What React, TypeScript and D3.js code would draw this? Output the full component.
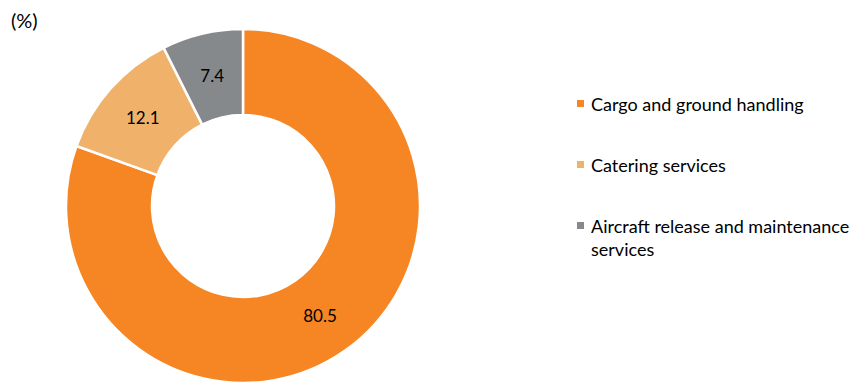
import React from "react";
import * as d3 from "d3";

const categories = ["Cargo and ground handling", "Catering services", "Aircraft release and maintenance services"];
const values = [80.5, 12.1, 7.4];
const colors = ["#F58623", "#F0B26B", "#86898C"];
const unitLabel = "(%)";

const W = 867, H = 385;
const cx = 243, cy = 206, rOuter = 177, rInner = 91;
const FONT = "Lato, 'Open Sans', sans-serif";

function wrap(text: string, maxChars: number): string[] {
  const words = text.split(" ");
  const lines: string[] = [];
  let cur = "";
  for (const w of words) {
    const next = cur ? cur + " " + w : w;
    if (next.length > maxChars && cur) {
      lines.push(cur);
      cur = w;
    } else cur = next;
  }
  if (cur) lines.push(cur);
  return lines;
}

export default function App() {
  const pie = d3.pie<number>().sort(null).value((d) => d);
  const arcs = pie(values);
  const arc = d3.arc<d3.PieArcDatum<number>>().innerRadius(rInner).outerRadius(rOuter);
  const legendY = d3.scalePoint<number>().domain(d3.range(categories.length)).range([104, 226]);

  return (
    <svg width={W} height={H} style={{ position: "absolute", left: 0, top: 0 }}>
      <text x={11} y={28} fontFamily={FONT} fontSize={20} fill="#000">{unitLabel}</text>
      <g transform={`translate(${cx},${cy})`}>
        {arcs.map((a, i) => (
          <path key={i} d={arc(a) || ""} fill={colors[i]} stroke="#fff" strokeWidth={2.5} />
        ))}
        {arcs.map((a, i) => {
          const [x, y] = arc.centroid(a);
          return (
            <text key={"l" + i} x={x} y={y} textAnchor="middle" dominantBaseline="central"
              fontFamily={FONT} fontSize={17} fill="#000">
              {values[i].toFixed(1)}
            </text>
          );
        })}
      </g>
      {categories.map((c, i) => {
        const y = legendY(i)!;
        const lines = wrap(c, 33);
        return (
          <g key={"lg" + i}>
            <rect x={577} y={y - 4} width={7} height={7} fill={colors[i]} />
            <text x={591} y={y} fontFamily={FONT} fontSize={18} fill="#000" dominantBaseline="central">
              {lines.map((ln, j) => (
                <tspan key={j} x={591} dy={j === 0 ? 0 : 23}>{ln}</tspan>
              ))}
            </text>
          </g>
        );
      })}
    </svg>
  );
}
